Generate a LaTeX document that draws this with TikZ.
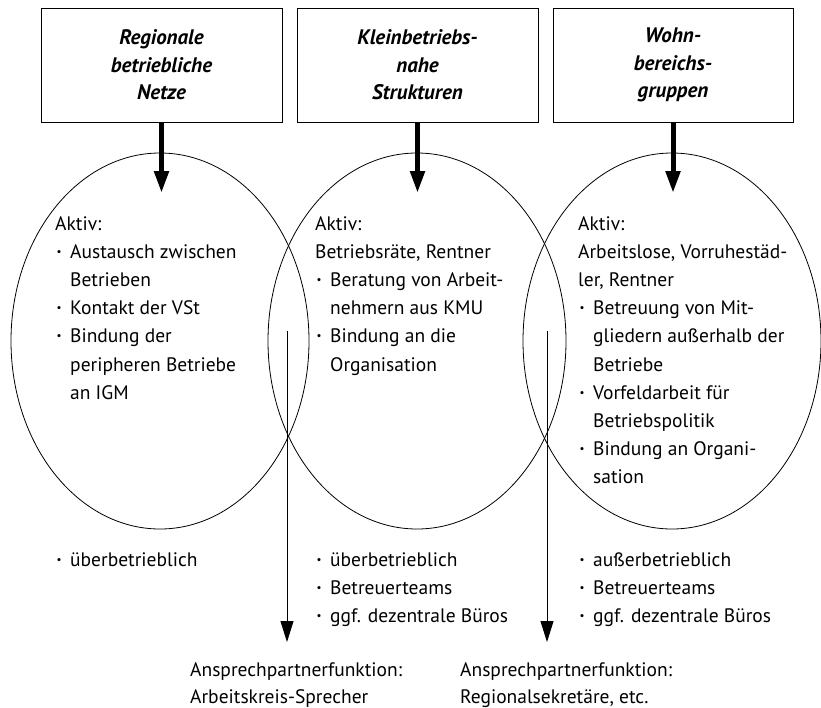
\documentclass[tikz,border=0pt]{standalone}
\usepackage{fontspec}
\setmainfont{PT Sans}
\usetikzlibrary{arrows.meta,shapes.geometric}
\newcommand\bul{\makebox[15pt][l]{\hspace{1.5pt}\raisebox{3pt}{\fontsize{11}{11}\selectfont\textbullet}}}
\newcommand\ind{\hspace*{15pt}}
\begin{document}
\begin{tikzpicture}[x=1pt,y=-1pt,
  titlebox/.style={draw, line width=0.8pt, minimum width=241pt, minimum height=114pt, inner sep=0pt, align=center, font=\fontsize{21}{27.5}\selectfont\bfseries\itshape},
  oval/.style={draw, ellipse, line width=0.8pt, minimum width=298pt, minimum height=376pt, inner sep=0pt},
  txt/.style={anchor=base west, align=left, inner sep=0pt, font=\fontsize{19.5}{28.2}\selectfont},
  bigarrow/.style={line width=5pt, -{Triangle[width=14pt,length=22pt]}},
  smallarrow/.style={line width=0.9pt, -{Triangle[width=13pt,length=21pt]}}]
\useasboundingbox (0,0) rectangle (821,707);

% boxes
\node[titlebox] (b1) at (161.5,65) {Regionale\\betriebliche\\Netze};
\node[titlebox] (b2) at (417.5,65) {Kleinbetriebs-\\nahe\\Strukturen};
\node[titlebox, minimum width=240pt] (b3) at (673,65) {Wohn-\\bereichs-\\gruppen};

% ellipses
\node[oval] (e1) at (160,341) {};
\node[oval] (e2) at (417,341) {};
\node[oval] (e3) at (672,341) {};

% thick arrows
\coordinate (t1) at (161.5,193);
\coordinate (t2) at (417.5,193);
\coordinate (t3) at (673,193);
\draw[bigarrow] (b1.south) -- (t1);
\draw[bigarrow] (b2.south) -- (t2);
\draw[bigarrow] (b3.south) -- (t3);

% thin arrows
\coordinate (s1) at (287,331);
\coordinate (s1e) at (287,642);
\coordinate (s2) at (547,331);
\coordinate (s2e) at (547,642);
\draw[smallarrow] (s1) -- (s1e);
\draw[smallarrow] (s2) -- (s2e);

% texts in ellipses (anchor = baseline of last line)
\node[txt] (x1) at (55,399.2) {Aktiv:\\
\bul Austausch zwischen\\
\ind Betrieben\\
\bul Kontakt der VSt\\
\bul Bindung der\\
\ind peripheren Betriebe\\
\ind an IGM};

\node[txt] (x2) at (315,371) {Aktiv:\\
Betriebsräte, Rentner\\
\bul Beratung von Arbeit-\\
\ind nehmern aus KMU\\
\bul Bindung an die\\
\ind Organisation};

\node[txt] (x3) at (578,483.8) {Aktiv:\\
Arbeitslose, Vorruhestäd-\\
ler, Rentner\\
\bul Betreuung von Mit-\\
\ind gliedern außerhalb der\\
\ind Betriebe\\
\bul Vorfeldarbeit für\\
\ind Betriebspolitik\\
\bul Bindung an Organi-\\
\ind sation};

% lower lists
\node[txt] (l1) at (55,566.5) {\bul überbetrieblich};
\node[txt] (l2) at (315,622.9) {\bul überbetrieblich\\
\bul Betreuerteams\\
\bul ggf. dezentrale Büros};
\node[txt] (l3) at (578,622.9) {\bul außerbetrieblich\\
\bul Betreuerteams\\
\bul ggf. dezentrale Büros};

% bottom labels
\node[txt, font=\fontsize{19.5}{27}\selectfont] (p1) at (190,703) {Ansprechpartnerfunktion:\\Arbeitskreis-Sprecher};
\node[txt, font=\fontsize{19.5}{27}\selectfont] (p2) at (460,703) {Ansprechpartnerfunktion:\\Regionalsekretäre, etc.};
\end{tikzpicture}
\end{document}
